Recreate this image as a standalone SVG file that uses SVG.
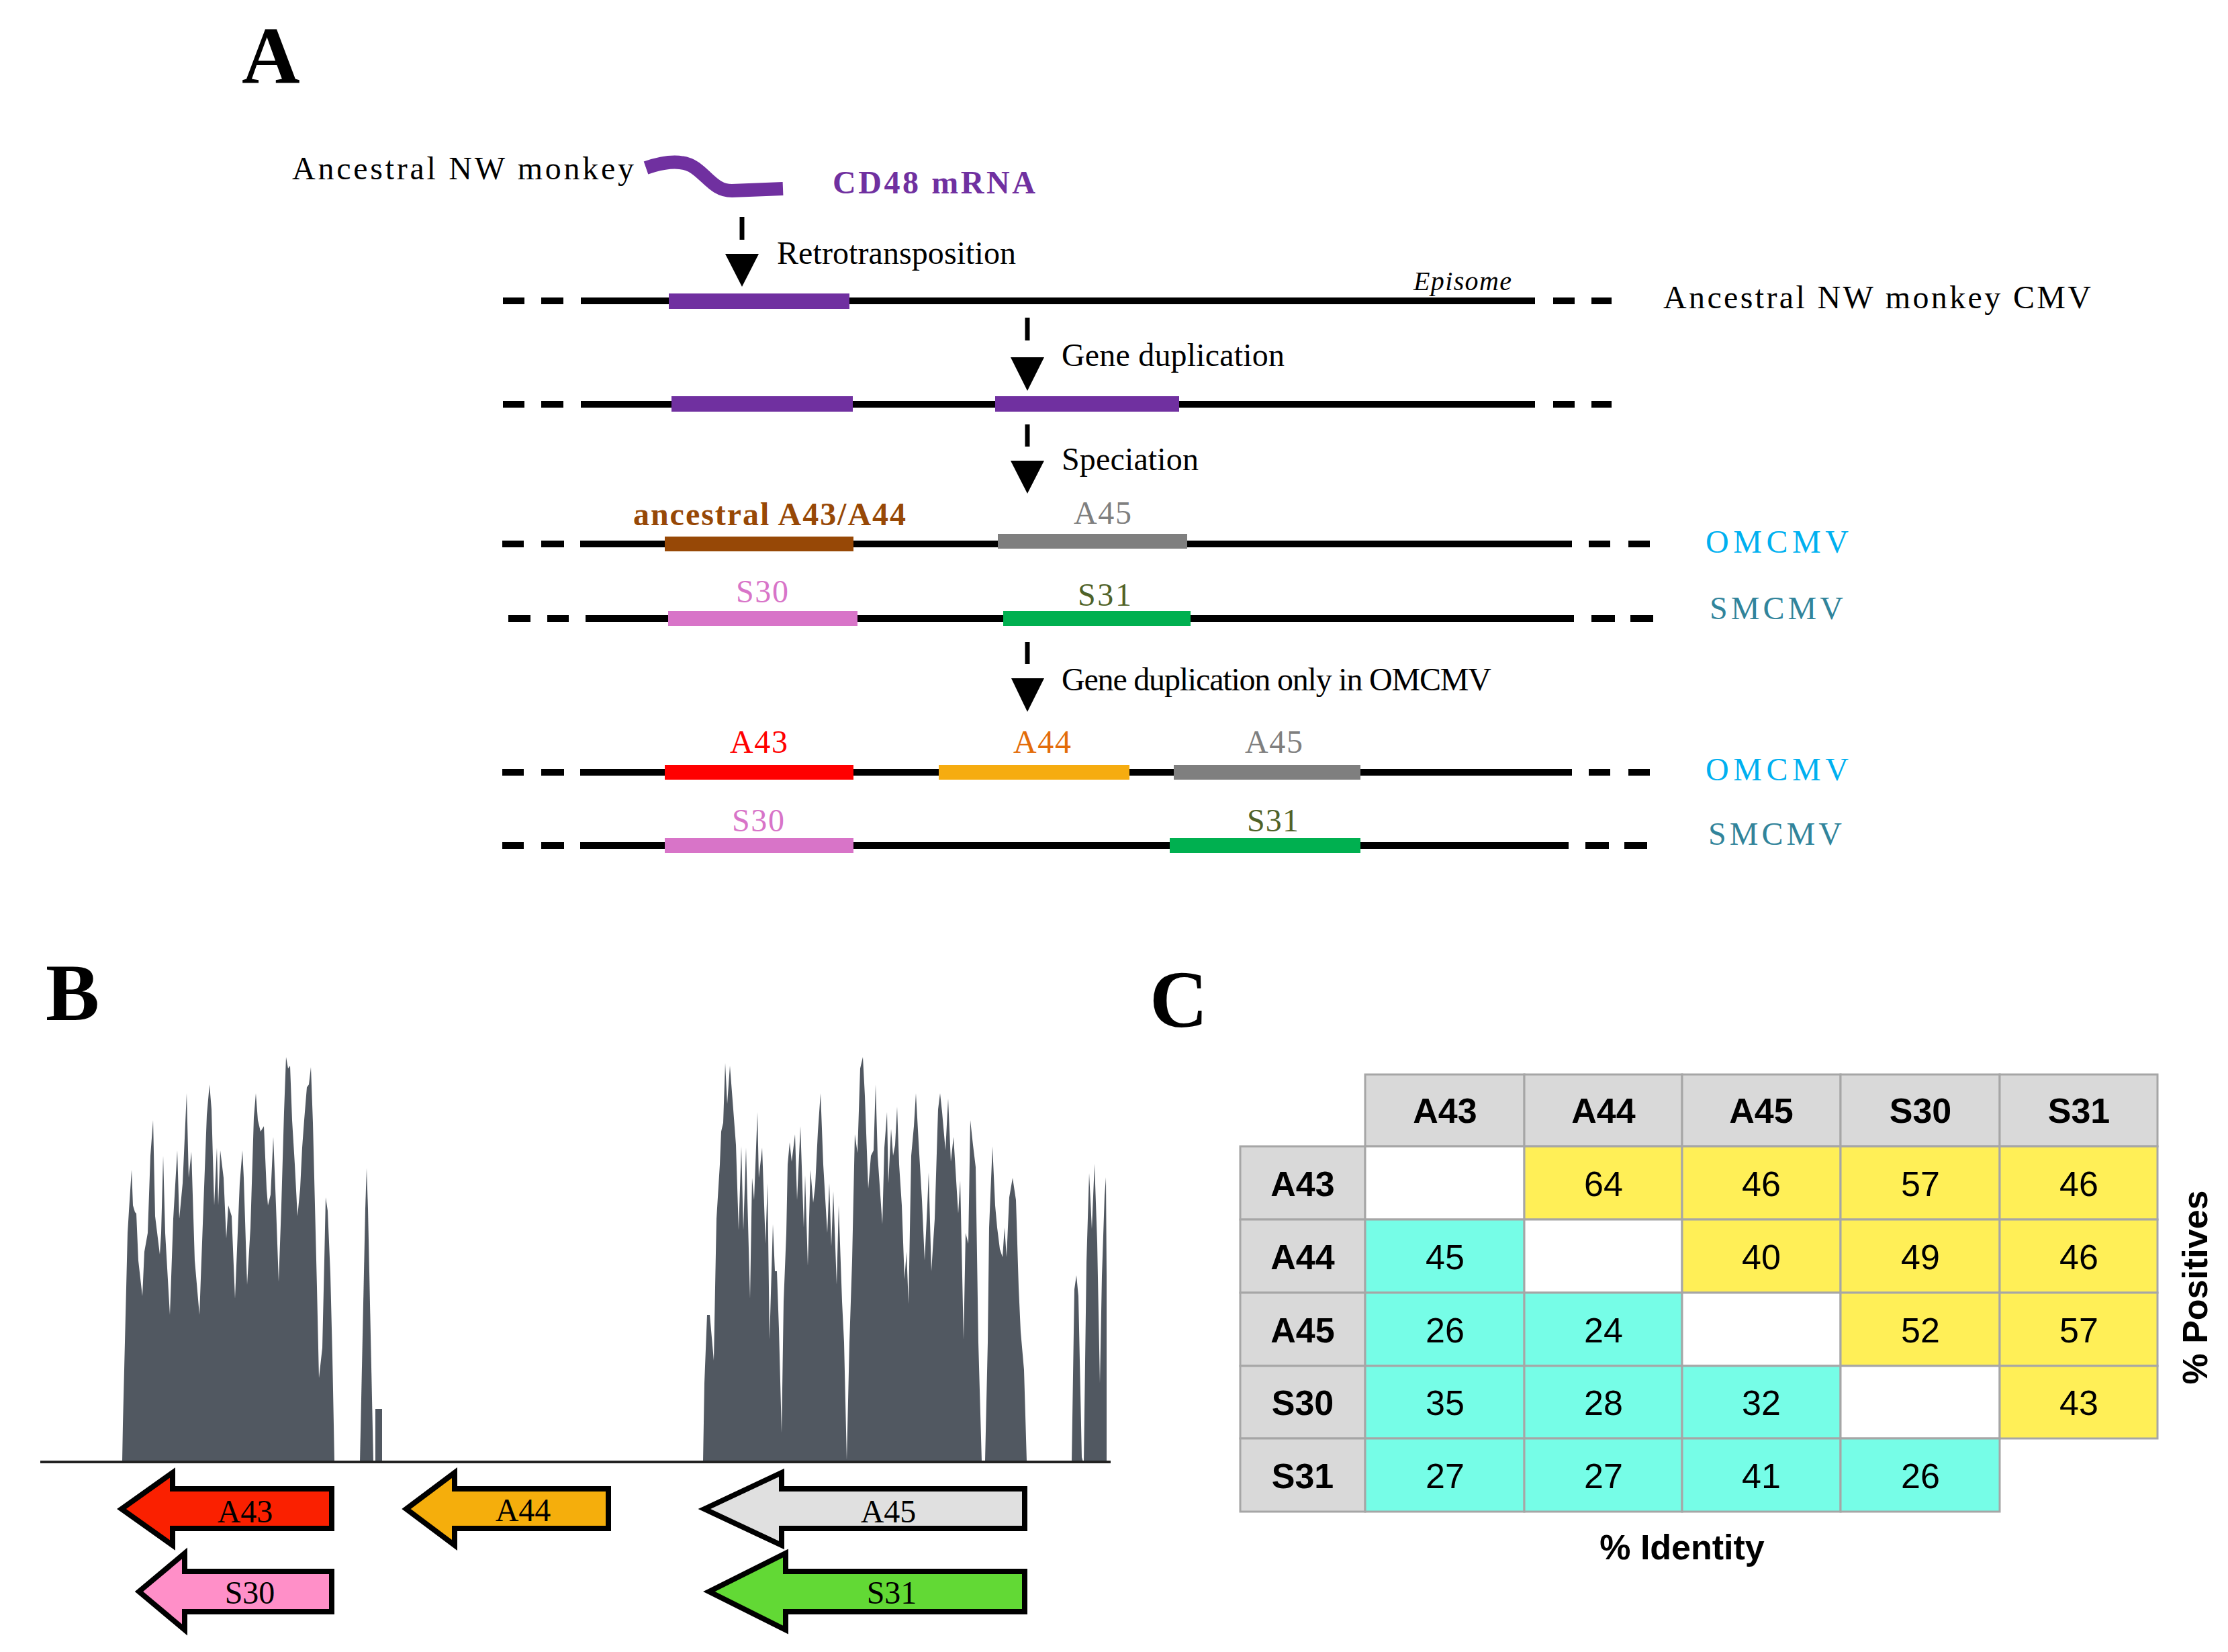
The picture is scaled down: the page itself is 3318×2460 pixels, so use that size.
<svg xmlns="http://www.w3.org/2000/svg" width="3318" height="2460" viewBox="0 0 3318 2460">
<defs>
<style>
.serif{font-family:"Liberation Serif","DejaVu Serif",serif;}
.sans{font-family:"Liberation Sans",Arial,sans-serif;}
.lbl{font-size:48px;}
.panel{font-size:120px;font-weight:bold;}
.chrom{stroke:#000;stroke-width:10;fill:none;}
.dash{stroke:#000;stroke-width:7;}
.head{fill:#000;}
.cov{fill:#515861;}
.garrow{stroke:#000;stroke-width:8;stroke-linejoin:miter;}
.alab{font-size:48px;text-anchor:middle;}
.cell{stroke:#A6A6A6;stroke-width:3;}
.hdr{fill:#D9D9D9;}
.yel{fill:#FFEF57;}
.cyn{fill:#76FDE7;}
.wht{fill:#FFFFFF;}
.th{font-size:52px;font-weight:bold;text-anchor:middle;}
.td{font-size:52px;text-anchor:middle;}
</style>
</defs>
<rect width="3318" height="2460" fill="#FFFFFF"/>

<!-- Panel A -->
<g id="panelA">
<text class="serif panel" x="360" y="123">A</text>
<g id="mrna">
<text class="serif lbl" x="435" y="267" textLength="509">Ancestral NW monkey</text>
<path d="M962 250 C985 242 1015 236 1035 250 C1055 264 1065 284 1090 284 L1166 281" stroke="#7030A0" stroke-width="20" fill="none"/>
<text class="serif" x="1240" y="288" font-size="48" font-weight="bold" fill="#7030A0" textLength="302">CD48 mRNA</text>
</g>
<g id="genome1">
<path class="chrom" d="M749 448 H781 M806 448 H839 M865 448 H2286 M2313 448 H2345 M2370 448 H2400"/>
<rect x="996" y="437" width="269" height="23" fill="#7030A0"/>
<text class="serif" x="2105" y="432" font-size="40" font-style="italic" textLength="146">Episome</text>
<text class="serif lbl" x="2477" y="459" textLength="637">Ancestral NW monkey CMV</text>
</g>
<g id="genome2">
<path class="chrom" d="M749 602 H781 M806 602 H839 M865 602 H2286 M2313 602 H2345 M2370 602 H2400"/>
<rect x="1000" y="590" width="270" height="23" fill="#7030A0"/>
<rect x="1482" y="590" width="274" height="23" fill="#7030A0"/>
</g>
<g id="omcmv1">
<path class="chrom" d="M748 810 H780 M806 810 H840 M864 810 H2341 M2366 810 H2398 M2425 810 H2457"/>
<rect x="990" y="799" width="281" height="22" fill="#974806"/>
<rect x="1486" y="795" width="282" height="22" fill="#7F7F7F"/>
<text class="serif lbl" x="943" y="782" fill="#974806" font-weight="bold" textLength="406">ancestral A43/A44</text>
<text class="serif lbl" x="1599" y="780" fill="#7F7F7F" textLength="86">A45</text>
<text class="serif lbl" x="2540" y="823" fill="#00B0F0" textLength="213">OMCMV</text>
</g>
<g id="smcmv1">
<path class="chrom" d="M757 921 H790 M815 921 H847 M872 921 H2344 M2370 921 H2405 M2428 921 H2462"/>
<rect x="995" y="910" width="282" height="22" fill="#D874C8"/>
<rect x="1494" y="910" width="279" height="22" fill="#00B050"/>
<text class="serif lbl" x="1096" y="897" fill="#D874C8" textLength="78">S30</text>
<text class="serif lbl" x="1605" y="902" fill="#4F6228" textLength="80">S31</text>
<text class="serif lbl" x="2546" y="922" fill="#31849B" textLength="199">SMCMV</text>
</g>
<g id="omcmv2">
<path class="chrom" d="M748 1150 H780 M806 1150 H840 M864 1150 H2341 M2366 1150 H2398 M2425 1150 H2457"/>
<rect x="990" y="1139" width="281" height="22" fill="#FF0000"/>
<rect x="1398" y="1139" width="284" height="22" fill="#F6AC10"/>
<rect x="1748" y="1139" width="278" height="22" fill="#7F7F7F"/>
<text class="serif lbl" x="1087" y="1121" fill="#FF0000" textLength="86">A43</text>
<text class="serif lbl" x="1509" y="1121" fill="#E36C09" textLength="86">A44</text>
<text class="serif lbl" x="1854" y="1121" fill="#7F7F7F" textLength="86">A45</text>
<text class="serif lbl" x="2540" y="1162" fill="#00B0F0" textLength="213">OMCMV</text>
</g>
<g id="smcmv2">
<path class="chrom" d="M748 1259 H780 M806 1259 H840 M864 1259 H2336 M2361 1259 H2396 M2419 1259 H2453"/>
<rect x="990" y="1248" width="281" height="22" fill="#D874C8"/>
<rect x="1742" y="1248" width="284" height="22" fill="#00B050"/>
<text class="serif lbl" x="1090" y="1238" fill="#D874C8" textLength="78">S30</text>
<text class="serif lbl" x="1857" y="1238" fill="#4F6228" textLength="77">S31</text>
<text class="serif lbl" x="2544" y="1258" fill="#31849B" textLength="199">SMCMV</text>
</g>
</g>

<g id="connectors">
<line class="dash" x1="1105" y1="323" x2="1105" y2="357"/>
<polygon class="head" points="1080,378 1130,378 1105,427"/>
<text class="serif lbl" x="1157" y="393" textLength="356">Retrotransposition</text>
<line class="dash" x1="1530" y1="473" x2="1530" y2="507"/>
<polygon class="head" points="1505,532 1555,532 1530,582"/>
<text class="serif lbl" x="1581" y="545" textLength="332">Gene duplication</text>
<line class="dash" x1="1530" y1="632" x2="1530" y2="665"/>
<polygon class="head" points="1505,686 1555,686 1530,735"/>
<text class="serif lbl" x="1581" y="700" textLength="204">Speciation</text>
<line class="dash" x1="1530" y1="956" x2="1530" y2="989"/>
<polygon class="head" points="1506,1010 1555,1010 1530,1060"/>
<text class="serif lbl" x="1581" y="1028" textLength="640">Gene duplication only in OMCMV</text>
</g>

<!-- Panel B -->
<g id="panelB">
<text class="serif panel" x="68" y="1519" font-size="115">B</text>
<g id="coverage">
<polygon class="cov" points="182,2176 183,2121 190,1836 192,1803 196,1742 198,1795 201,1805 203,1807 206,1877 212,1930 215,1864 220,1836 224,1721 228,1668 231,1811 238,1868 240,1836 243,1721 246,1836 253,1958 258,1815 264,1713 267,1815 272,1762 278,1628 281,1754 285,1715 290,1877 297,1958 303,1795 308,1660 312,1615 315,1652 319,1795 323,1709 325,1795 328,1713 333,1754 337,1844 340,1795 345,1811 350,1934 357,1762 361,1713 363,1754 368,1913 373,1828 378,1664 381,1628 384,1668 388,1685 393,1677 397,1770 399,1795 403,1779 407,1693 411,1795 415,1909 419,1795 423,1656 426,1574 429,1591 432,1587 435,1668 439,1734 443,1811 447,1770 450,1709 453,1668 457,1619 460,1615 463,1589 466,1672 472,1917 475,2052 480,2007 483,1877 485,1783 488,1803 492,1897 495,2019 497,2121 498,2176"/>
<polygon class="cov" points="536,2177 544,1800 546,1740 548,1800 556,2177"/>
<polygon class="cov" points="559,2177 559,2098 569,2098 569,2177"/>
<polygon class="cov" points="1047,2176 1049,2060 1053,1958 1057,1958 1063,2026 1065,1917 1067,1815 1072,1734 1074,1685 1077,1672 1080,1583 1083,1644 1087,1587 1092,1652 1096,1705 1100,1832 1104,1707 1107,1832 1111,1709 1117,1934 1120,1754 1123,1787 1128,1656 1130,1754 1135,1709 1140,1852 1143,1762 1146,1995 1151,1823 1154,1893 1157,1893 1160,1979 1164,2134 1167,1938 1171,1836 1173,1734 1176,1701 1179,1730 1184,1689 1187,1787 1192,1677 1197,1828 1199,1750 1203,1885 1207,1742 1211,1791 1214,1766 1218,1685 1222,1628 1226,1734 1232,1836 1235,1762 1238,1856 1241,1774 1246,1913 1249,1795 1254,1938 1257,1999 1261,2174 1265,1999 1269,1877 1273,1689 1277,1717 1281,1591 1285,1574 1288,1632 1293,1770 1297,1721 1301,1713 1304,1615 1307,1721 1314,1823 1317,1709 1321,1656 1323,1762 1327,1681 1330,1721 1333,1705 1336,1648 1339,1734 1343,1795 1347,1905 1350,1864 1353,1942 1357,1721 1361,1677 1364,1628 1368,1701 1373,1787 1377,1877 1381,1795 1383,1746 1387,1893 1392,1815 1397,1652 1400,1628 1403,1656 1408,1713 1412,1636 1416,1730 1420,1693 1427,1807 1430,1758 1435,1995 1438,1836 1442,1852 1445,1668 1449,1705 1453,1738 1457,1999 1462,2176 1467,2176 1471,1999 1473,1828 1478,1707 1482,1795 1485,1828 1489,1860 1493,1872 1496,1828 1499,1872 1503,1783 1508,1754 1513,1787 1517,1917 1520,1983 1525,2040 1529,2176"/>
<polygon class="cov" points="1596,2177 1600,1920 1603,1899 1606,1930 1611,2170 1613,2177"/>
<polygon class="cov" points="1614,2177 1618,1880 1622,1747 1626,1830 1630,1733 1634,1850 1638,2060 1641,1900 1645,1780 1647,1753 1648,1900 1648,2177"/>
</g>
<line x1="60" y1="2177" x2="1654" y2="2177" stroke="#222" stroke-width="4"/>
<g id="gene-A43">
<polygon class="garrow" fill="#FA2000" points="181,2247 257,2193 257,2217 494,2217 494,2276 257,2276 257,2301"/>
<text class="serif alab" x="365" y="2267">A43</text>
</g>
<g id="gene-A44">
<polygon class="garrow" fill="#F5AE0C" points="605,2247 677,2193 677,2217 906,2217 906,2276 677,2276 677,2301"/>
<text class="serif alab" x="779" y="2265">A44</text>
</g>
<g id="gene-A45">
<polygon class="garrow" fill="#E0E0E0" points="1049,2247 1164,2193 1164,2217 1526,2217 1526,2276 1164,2276 1164,2301"/>
<text class="serif alab" x="1323" y="2267">A45</text>
</g>
<g id="gene-S30">
<polygon class="garrow" fill="#FF8FC8" points="207,2370 275,2313 275,2340 494,2340 494,2400 275,2400 275,2427"/>
<text class="serif alab" x="372" y="2388">S30</text>
</g>
<g id="gene-S31">
<polygon class="garrow" fill="#62D935" points="1056,2370 1170,2313 1170,2340 1526,2340 1526,2400 1170,2400 1170,2427"/>
<text class="serif alab" x="1328" y="2388">S31</text>
</g>
</g>

<!-- Panel C -->
<g id="panelC">
<text class="serif panel" x="1712" y="1529" font-size="118">C</text>
<g id="table">
<rect class="cell hdr" x="2033" y="1600" width="237" height="107"/>
<rect class="cell hdr" x="2270" y="1600" width="235" height="107"/>
<rect class="cell hdr" x="2505" y="1600" width="236" height="107"/>
<rect class="cell hdr" x="2741" y="1600" width="237" height="107"/>
<rect class="cell hdr" x="2978" y="1600" width="235" height="107"/>
<rect class="cell hdr" x="1847" y="1707" width="186" height="109"/>
<rect class="cell hdr" x="1847" y="1816" width="186" height="109"/>
<rect class="cell hdr" x="1847" y="1925" width="186" height="109"/>
<rect class="cell hdr" x="1847" y="2034" width="186" height="108"/>
<rect class="cell hdr" x="1847" y="2142" width="186" height="109"/>

<rect class="cell wht" x="2033" y="1707" width="237" height="109"/>
<rect class="cell yel" x="2270" y="1707" width="235" height="109"/>
<rect class="cell yel" x="2505" y="1707" width="236" height="109"/>
<rect class="cell yel" x="2741" y="1707" width="237" height="109"/>
<rect class="cell yel" x="2978" y="1707" width="235" height="109"/>

<rect class="cell cyn" x="2033" y="1816" width="237" height="109"/>
<rect class="cell wht" x="2270" y="1816" width="235" height="109"/>
<rect class="cell yel" x="2505" y="1816" width="236" height="109"/>
<rect class="cell yel" x="2741" y="1816" width="237" height="109"/>
<rect class="cell yel" x="2978" y="1816" width="235" height="109"/>

<rect class="cell cyn" x="2033" y="1925" width="237" height="109"/>
<rect class="cell cyn" x="2270" y="1925" width="235" height="109"/>
<rect class="cell wht" x="2505" y="1925" width="236" height="109"/>
<rect class="cell yel" x="2741" y="1925" width="237" height="109"/>
<rect class="cell yel" x="2978" y="1925" width="235" height="109"/>

<rect class="cell cyn" x="2033" y="2034" width="237" height="108"/>
<rect class="cell cyn" x="2270" y="2034" width="235" height="108"/>
<rect class="cell cyn" x="2505" y="2034" width="236" height="108"/>
<rect class="cell wht" x="2741" y="2034" width="237" height="108"/>
<rect class="cell yel" x="2978" y="2034" width="235" height="108"/>

<rect class="cell cyn" x="2033" y="2142" width="237" height="109"/>
<rect class="cell cyn" x="2270" y="2142" width="235" height="109"/>
<rect class="cell cyn" x="2505" y="2142" width="236" height="109"/>
<rect class="cell cyn" x="2741" y="2142" width="237" height="109"/>

<text class="sans th" x="2152" y="1672">A43</text>
<text class="sans th" x="2388" y="1672">A44</text>
<text class="sans th" x="2623" y="1672">A45</text>
<text class="sans th" x="2860" y="1672">S30</text>
<text class="sans th" x="3096" y="1672">S31</text>
<text class="sans th" x="1940" y="1781">A43</text>
<text class="sans th" x="1940" y="1890">A44</text>
<text class="sans th" x="1940" y="1999">A45</text>
<text class="sans th" x="1940" y="2107">S30</text>
<text class="sans th" x="1940" y="2216">S31</text>

<text class="sans td" x="2388" y="1781">64</text>
<text class="sans td" x="2623" y="1781">46</text>
<text class="sans td" x="2860" y="1781">57</text>
<text class="sans td" x="3096" y="1781">46</text>
<text class="sans td" x="2152" y="1890">45</text>
<text class="sans td" x="2623" y="1890">40</text>
<text class="sans td" x="2860" y="1890">49</text>
<text class="sans td" x="3096" y="1890">46</text>
<text class="sans td" x="2152" y="1999">26</text>
<text class="sans td" x="2388" y="1999">24</text>
<text class="sans td" x="2860" y="1999">52</text>
<text class="sans td" x="3096" y="1999">57</text>
<text class="sans td" x="2152" y="2107">35</text>
<text class="sans td" x="2388" y="2107">28</text>
<text class="sans td" x="2623" y="2107">32</text>
<text class="sans td" x="3096" y="2107">43</text>
<text class="sans td" x="2152" y="2216">27</text>
<text class="sans td" x="2388" y="2216">27</text>
<text class="sans td" x="2623" y="2216">41</text>
<text class="sans td" x="2860" y="2216">26</text>
</g>
<text class="sans th" x="2505" y="2322">% Identity</text>
<text class="sans th" transform="translate(3287 1917) rotate(-90)" x="0" y="0">% Positives</text>
</g>
</svg>
